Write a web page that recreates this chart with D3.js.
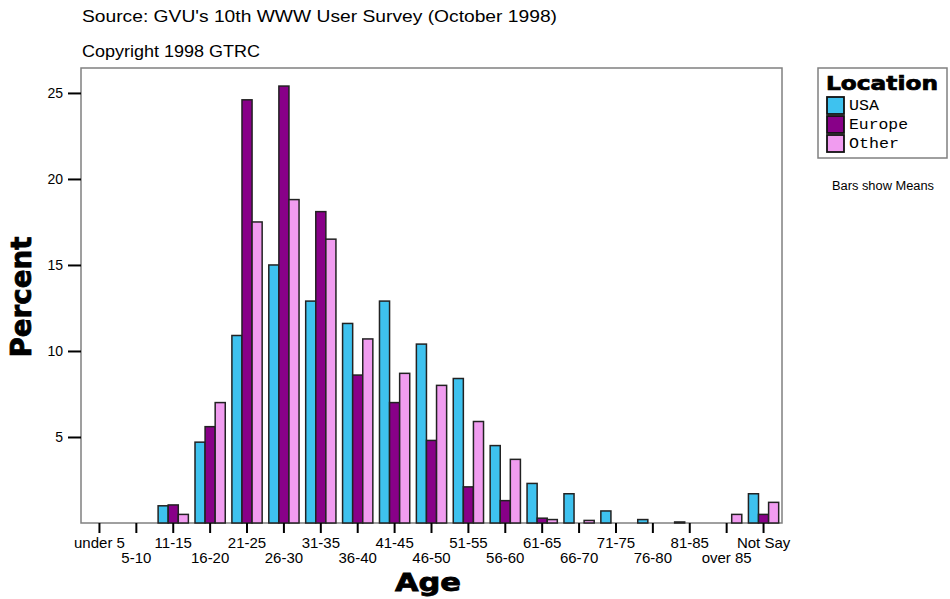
<!DOCTYPE html>
<html>
<head>
<meta charset="utf-8">
<script src="https://cdn.jsdelivr.net/npm/d3@7"></script>
<style>
  html, body { margin: 0; padding: 0; background: #fff; }
  svg { display: block; }
</style>
</head>
<body>
<svg id="chart" width="950" height="599"></svg>
<script>
const categories = ["under 5","5-10","11-15","16-20","21-25","26-30","31-35","36-40","41-45","46-50","51-55","56-60","61-65","66-70","71-75","76-80","81-85","over 85","Not Say"];
const seriesNames = ["USA","Europe","Other"];
const usaValues    = [0,0,1.0,4.7,10.9,15.0,12.9,11.6,12.9,10.4,8.4,4.5,2.3,1.7,0.7,0.2,0.06,0,1.7];
const europeValues = [0,0,1.05,5.6,24.6,25.4,18.1,8.6,7.0,4.8,2.1,1.3,0.28,0,0,0,0,0,0.5];
const otherValues  = [0,0,0.5,7.0,17.5,18.8,16.5,10.7,8.7,8.0,5.9,3.7,0.2,0.15,0,0,0,0.5,1.2];
const yTickValues = [5,10,15,20,25];
const colors = ["#3EC2EF","#880088","#F19CF0"];

const svg = d3.select("#chart");
const L = 81, R = 782, T = 68, B = 523;

const x0 = d3.scaleBand().domain(categories).range([L, R]).paddingInner(0.18).paddingOuter(0.09);
const x1 = d3.scaleBand().domain(seriesNames).range([0, x0.bandwidth()]);
const y = d3.scaleLinear().domain([0, 26.45]).range([B, T]);

const seriesValues = [usaValues, europeValues, otherValues];
const rows = [];
categories.forEach((c, i) => {
  seriesNames.forEach((s, j) => {
    rows.push({cat: c, series: s, value: seriesValues[j][i], color: colors[j]});
  });
});

// Titles
svg.append("text").attr("x", 82).attr("y", 22)
  .attr("font-family", "Liberation Sans, Arial, sans-serif").attr("font-size", 17)
  .attr("textLength", 475).attr("lengthAdjust", "spacingAndGlyphs")
  .text("Source: GVU's 10th WWW User Survey (October 1998)");
svg.append("text").attr("x", 82).attr("y", 57)
  .attr("font-family", "Liberation Sans, Arial, sans-serif").attr("font-size", 17)
  .attr("textLength", 178).attr("lengthAdjust", "spacingAndGlyphs")
  .text("Copyright 1998 GTRC");

// Plot frame
svg.append("rect").attr("x", L).attr("y", T).attr("width", R - L).attr("height", B - T)
  .attr("fill", "#fff").attr("stroke", "#808080").attr("stroke-width", 1.5);

// Bars
svg.append("g").selectAll("rect").data(rows.filter(d => d.value > 0)).join("rect")
  .attr("x", d => x0(d.cat) + x1(d.series))
  .attr("y", d => y(d.value))
  .attr("width", x1.bandwidth())
  .attr("height", d => y(0) - y(d.value))
  .attr("fill", d => d.color)
  .attr("stroke", "#222").attr("stroke-width", 1.5);

// Y axis
const yAxis = d3.axisLeft(y).tickValues(yTickValues).tickSize(13).tickPadding(5);
const gy = svg.append("g").attr("transform", `translate(${L},0)`).call(yAxis);
gy.select(".domain").remove();
gy.selectAll(".tick line").attr("stroke", "#000").attr("stroke-width", 2);
gy.selectAll(".tick text").attr("font-family", "Liberation Sans, Arial, sans-serif").attr("font-size", 14).attr("fill", "#000");

// X axis
const xAxis = d3.axisBottom(x0).tickSize(10).tickPadding(3);
const gx = svg.append("g").attr("transform", `translate(0,${B})`).call(xAxis);
gx.select(".domain").remove();
gx.selectAll(".tick line").attr("stroke", "#000").attr("stroke-width", 2);
gx.selectAll(".tick text")
  .attr("font-family", "Liberation Sans, Arial, sans-serif").attr("font-size", 15).attr("fill", "#000")
  .attr("dy", null)
  .attr("y", (d, i) => i % 2 === 0 ? 25 : 40);

// Axis titles
svg.append("text").attr("transform", "translate(31,297) rotate(-90)")
  .attr("text-anchor", "middle")
  .attr("font-family", "DejaVu Sans, sans-serif").attr("font-weight", "bold").attr("font-size", 28)
  .attr("stroke", "#000").attr("stroke-width", 0.8)
  .attr("textLength", 121).attr("lengthAdjust", "spacingAndGlyphs")
  .text("Percent");
svg.append("text").attr("x", 428).attr("y", 591)
  .attr("text-anchor", "middle")
  .attr("font-family", "DejaVu Sans, sans-serif").attr("font-weight", "bold").attr("font-size", 24)
  .attr("stroke", "#000").attr("stroke-width", 0.8)
  .attr("textLength", 66).attr("lengthAdjust", "spacingAndGlyphs")
  .text("Age");

// Legend
const lg = svg.append("g");
lg.append("rect").attr("x", 818).attr("y", 68).attr("width", 129).attr("height", 90)
  .attr("fill", "#fff").attr("stroke", "#808080").attr("stroke-width", 1.5);
lg.append("text").attr("x", 826).attr("y", 90)
  .attr("font-family", "DejaVu Sans, sans-serif").attr("font-weight", "bold").attr("font-size", 19)
  .attr("stroke", "#000").attr("stroke-width", 0.7)
  .attr("textLength", 112).attr("lengthAdjust", "spacingAndGlyphs")
  .text("Location");
const legendWidths = [30, 59, 50];
seriesNames.forEach((s, j) => {
  lg.append("rect").attr("x", 827).attr("y", 97 + j * 19).attr("width", 17).attr("height", 17)
    .attr("fill", colors[j]).attr("stroke", "#111").attr("stroke-width", 1.8);
  lg.append("text").attr("x", 849).attr("y", 110 + j * 18.8)
    .attr("font-family", "Liberation Mono, Courier New, monospace").attr("font-size", 14)
    .attr("textLength", legendWidths[j]).attr("lengthAdjust", "spacingAndGlyphs")
    .text(s);
});
svg.append("text").attr("x", 832).attr("y", 190)
  .attr("font-family", "Liberation Sans, Arial, sans-serif").attr("font-size", 12)
  .attr("textLength", 102).attr("lengthAdjust", "spacingAndGlyphs")
  .text("Bars show Means");
</script>
</body>
</html>
